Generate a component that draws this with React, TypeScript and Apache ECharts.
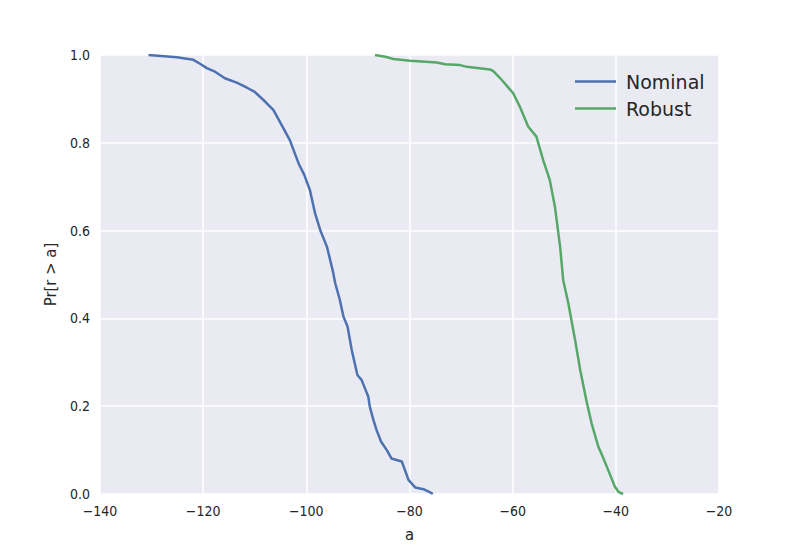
import React, { useEffect, useRef } from "react";
import * as echarts from "echarts";

const nominalX = [-130.6, -125.1, -121.9, -120.6, -119.3, -117.7, -115.8, -113.5, -111.6, -110.0, -108.0, -106.4, -104.8, -103.2, -101.5, -100.4, -99.3, -98.3, -97.3, -96.0, -94.9, -94.4, -93.5, -92.8, -92.0, -91.2, -90.1, -89.3, -88.0, -87.7, -87.0, -86.4, -85.5, -84.4, -83.5, -81.5, -80.9, -80.2, -78.9, -77.3, -75.7, -75.5];
const nominalP = [1.0, 0.995, 0.989, 0.98, 0.97, 0.962, 0.947, 0.937, 0.926, 0.916, 0.894, 0.875, 0.841, 0.806, 0.753, 0.727, 0.692, 0.639, 0.601, 0.563, 0.51, 0.48, 0.442, 0.404, 0.381, 0.328, 0.271, 0.26, 0.222, 0.199, 0.169, 0.146, 0.119, 0.1, 0.081, 0.074, 0.055, 0.032, 0.015, 0.011, 0.002, 0.0];

const robustX = [-86.7, -84.7, -83.1, -79.9, -74.7, -73.1, -70.2, -68.9, -64.4, -63.8, -62.4, -59.9, -58.6, -57.0, -55.4, -54.1, -52.8, -51.8, -50.8, -50.2, -49.2, -47.9, -46.9, -45.6, -44.7, -43.4, -42.4, -41.5, -40.2, -39.5, -38.6];
const robustP = [1.0, 0.996, 0.991, 0.987, 0.983, 0.979, 0.977, 0.973, 0.967, 0.964, 0.947, 0.913, 0.882, 0.837, 0.814, 0.761, 0.715, 0.654, 0.563, 0.487, 0.434, 0.351, 0.282, 0.207, 0.161, 0.108, 0.081, 0.055, 0.017, 0.005, 0.0];

const seriesNames = ["Nominal", "Robust"];
const xTicks = { min: -140, max: -20, interval: 20 };
const yTicks = { min: 0, max: 1, interval: 0.2 };

const tickFont = "'Liberation Sans Narrow', 'DejaVu Sans Condensed', 'DejaVu Sans', sans-serif";

export default function App() {
  const ref = useRef<HTMLDivElement>(null);
  useEffect(() => {
    if (!ref.current) return;
    const chart = echarts.init(ref.current, undefined, { renderer: "svg" });
    const zip = (xs: number[], ys: number[]) => xs.map((x, i) => [x, ys[i]]);
    chart.setOption({
      animation: false,
      backgroundColor: "#ffffff",
      grid: { left: 100, right: 81, top: 55, bottom: 56, show: true, backgroundColor: "#EAEAF2", borderWidth: 0 },
      xAxis: {
        type: "value",
        min: xTicks.min,
        max: xTicks.max,
        interval: xTicks.interval,
        name: "a",
        nameLocation: "middle",
        nameGap: 32,
        nameTextStyle: { fontSize: 16.5, color: "#262626", fontFamily: tickFont },
        axisLine: { show: false },
        axisTick: { show: false },
        splitLine: { show: true, lineStyle: { color: "#ffffff", width: 1.5 } },
        axisLabel: {
          fontSize: 14,
          color: "#262626",
          fontFamily: tickFont,
          margin: 10,
          formatter: (v: number) => String(v).replace("-", "\u2212"),
        },
      },
      yAxis: {
        type: "value",
        min: yTicks.min,
        max: yTicks.max,
        interval: yTicks.interval,
        name: "Pr[r > a]",
        nameLocation: "middle",
        nameGap: 36,
        nameRotate: 90,
        nameTextStyle: { fontSize: 16.5, color: "#262626", fontFamily: tickFont },
        axisLine: { show: false },
        axisTick: { show: false },
        splitLine: { show: true, lineStyle: { color: "#ffffff", width: 1.5 } },
        axisLabel: {
          fontSize: 14,
          color: "#262626",
          fontFamily: tickFont,
          margin: 10,
          formatter: (v: number) => v.toFixed(1),
        },
      },
      legend: {
        orient: "vertical",
        left: 570,
        top: 67,
        itemWidth: 41,
        itemHeight: 2.5,
        itemGap: 8,
        icon: "rect",
        textStyle: { fontSize: 19, color: "#262626", fontFamily: "'DejaVu Sans', sans-serif", padding: [0, 0, 0, 5] },
        data: seriesNames,
      },
      series: [
        {
          name: seriesNames[0],
          type: "line",
          data: zip(nominalX, nominalP),
          showSymbol: false,
          symbol: "none",
          lineStyle: { color: "#4C72B0", width: 2.5 },
          itemStyle: { color: "#4C72B0" },
        },
        {
          name: seriesNames[1],
          type: "line",
          data: zip(robustX, robustP),
          showSymbol: false,
          symbol: "none",
          lineStyle: { color: "#55A868", width: 2.5 },
          itemStyle: { color: "#55A868" },
        },
      ],
    });
    return () => chart.dispose();
  }, []);
  return <div ref={ref} style={{ width: 800, height: 550, position: "absolute", left: 0, top: 0 }} />;
}
